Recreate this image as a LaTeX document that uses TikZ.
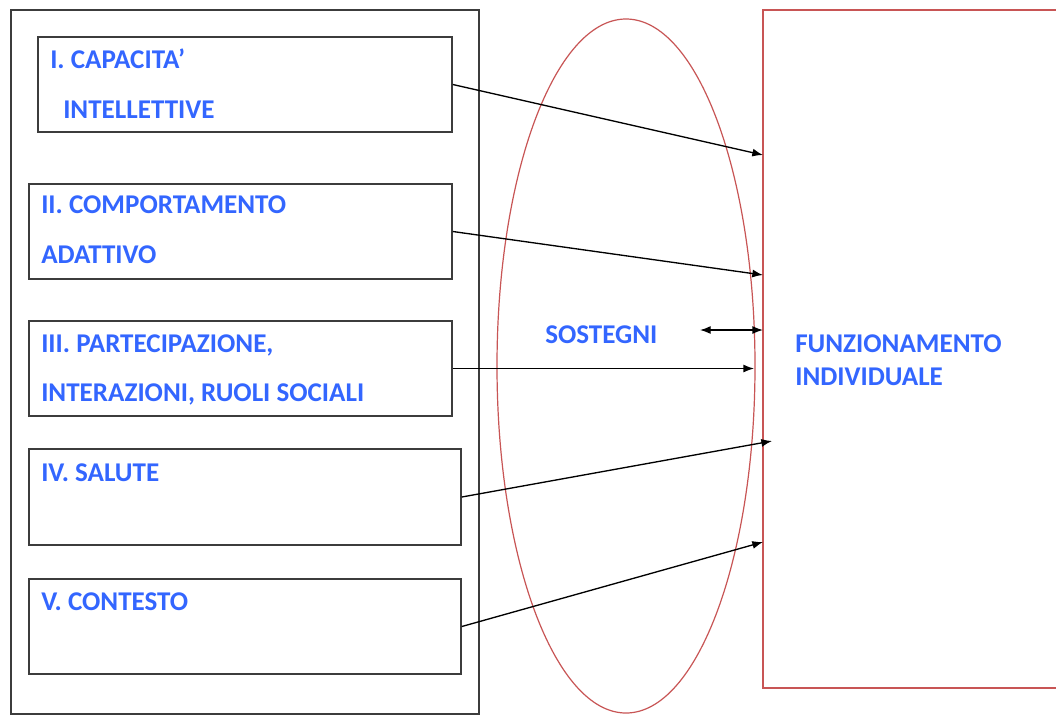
\documentclass[tikz,border=0pt]{standalone}
\usepackage{fontspec}
\setmainfont{Carlito}
\usetikzlibrary{shapes.geometric,fit,arrows.meta}
\definecolor{lblue}{RGB}{51,102,255}
\definecolor{ored}{RGB}{200,85,85}
\definecolor{bgray}{RGB}{60,60,60}
\tikzset{
  box/.style={draw=bgray, line width=1.2pt, inner sep=0pt, fill=none},
  lbl/.style={text=lblue, font=\fontsize{20.3}{23}\selectfont\bfseries, anchor=base west, inner sep=0pt},
  conn/.style={draw=black, line width=1pt, -{Latex[length=8pt,width=6pt]}},
}
\begin{document}
\begin{tikzpicture}[x=0.75pt,y=-0.75pt]
\useasboundingbox (0,0) rectangle (1056,715);
\clip (0,0) rectangle (1056,715);
\fill[white] (0,0) rectangle (1056,715);
% outer left frame
\node[box, fit={(11,10) (479,714)}] (outer) {};
% five boxes
\node[box, fit={(38,37) (452,132)}] (b1) {};
\node[box, fit={(29,184) (452,279)}] (b2) {};
\node[box, fit={(29,321) (452,416)}] (b3) {};
\node[box, fit={(29,449) (461,545)}] (b4) {};
\node[box, fit={(29,579) (461,674)}] (b5) {};
% ellipse
\node[draw=ored, line width=0.9pt, ellipse, inner sep=0pt, minimum width=258*0.75pt, minimum height=694*0.75pt] (sup) at (626,366) {};
% red rectangle
\node[draw=ored, line width=1.3pt, inner sep=0pt, fit={(763,10) (1120,688)}] (fun) {};
% labels
\node[lbl] (t1a) at (50,68) {I. CAPACITA’};
\node[lbl] (t1b) at (63,118) {INTELLETTIVE};
\node[lbl] (t2a) at (41,213) {II. COMPORTAMENTO};
\node[lbl] (t2b) at (41,263) {ADATTIVO};
\node[lbl] (t3a) at (41,352) {III. PARTECIPAZIONE,};
\node[lbl] (t3b) at (41,401) {INTERAZIONI, RUOLI SOCIALI};
\node[lbl] (t4) at (41,481) {IV. SALUTE};
\node[lbl] (t5) at (41,610) {V. CONTESTO};
\node[lbl] (ts) at (545,343) {SOSTEGNI};
\node[lbl] (tf1) at (795,352) {FUNZIONAMENTO};
\node[lbl] (tf2) at (795,385) {INDIVIDUALE};
% arrow targets
\coordinate (e1) at (763,155);
\coordinate (e2) at (763,275);
\coordinate (e3) at (754,368.5);
\coordinate (e4) at (772,441);
\coordinate (e5) at (763,542);
\coordinate (d1) at (700,330);
\coordinate (d2) at (763,330);
% connectors
\draw[conn] (b1.east) -- (e1);
\draw[conn] (b2.east) -- (e2);
\draw[conn] (b3.east) -- (e3);
\draw[conn] (b4.east) -- (e4);
\draw[conn] (b5.east) -- (e5);
\draw[draw=black, line width=1pt, {Latex[length=8pt,width=6pt]}-{Latex[length=8pt,width=6pt]}] (d1) -- (d2);
\end{tikzpicture}
\end{document}
